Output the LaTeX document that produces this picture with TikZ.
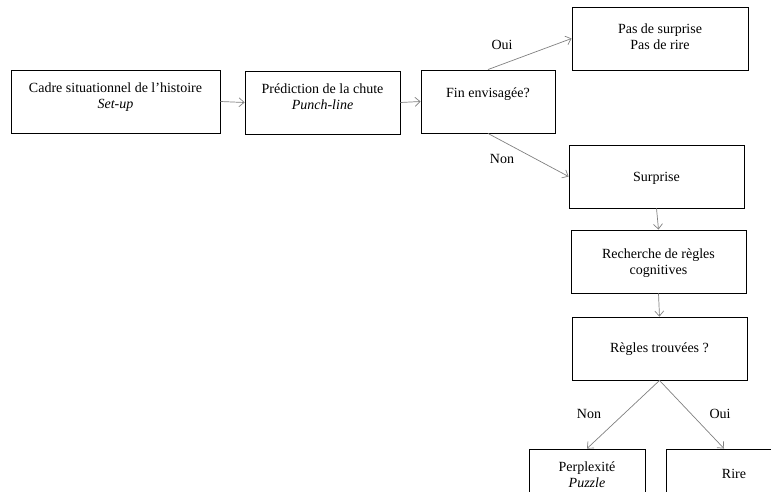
\documentclass[tikz,border=0pt]{standalone}
\usepackage{fontspec}
\setmainfont{Liberation Serif}
\usetikzlibrary{arrows.meta}
\begin{document}
\begin{tikzpicture}[x=1pt,y=-1pt,
  box/.style={draw=black,line width=0.9pt,inner sep=0pt,minimum height=63pt},
  txt/.style={align=center,font=\fontsize{14}{16}\selectfont,inner sep=0pt},
  lbl/.style={font=\fontsize{14}{16}\selectfont,inner sep=0pt},
  arr/.style={draw=black!50,line width=0.7pt,-{Straight Barb[length=5pt,width=9pt]}}]
\useasboundingbox (0,0) rectangle (771,492);
\clip (0,0) rectangle (771,492);
% boxes
\node[box,minimum width=209pt] (b1) at (115.5,101.5) {};
\node[box,minimum width=155pt] (b2) at (322.5,102.5) {};
\node[box,minimum width=134pt] (b3) at (488,101.5) {};
\node[box,minimum width=176pt] (b4) at (660,38.5) {};
\node[box,minimum width=175pt] (b5) at (656.5,176.5) {};
\node[box,minimum width=175pt] (b6) at (658.5,261.5) {};
\node[box,minimum width=175pt] (b7) at (659.5,348.5) {};
\node[box,minimum width=116pt] (b8) at (587,480.5) {};
\node[box,minimum width=116pt] (b9) at (724,480.5) {};
% texts
\node[txt] (t1) at (115.5,97) {Cadre situationnel de l’histoire\\\textit{Set-up}};
\node[txt] (t2) at (322.5,97) {Prédiction de la chute\\\textit{Punch-line}};
\node[txt] (t3) at (488,94) {Fin envisagée?};
\node[txt] (t4) at (660,37) {Pas de surprise\\Pas de rire};
\node[txt] (t5) at (656.5,178) {Surprise};
\node[txt] (t6) at (658.5,263) {Recherche de règles\\cognitives};
\node[txt] (t7) at (659.5,349) {Règles trouvées ?};
\node[txt] (t8) at (587,474.5) {Perplexité\\\textit{Puzzle}};
\node[txt] (t9) at (734,474) {Rire};
% connectors
\draw[arr] (b1.east) -- (b2.west);
\draw[arr] (b2.east) -- (b3.west);
\draw[arr] (b3.north) -- (b4.west);
\draw[arr] (b3.south) -- (b5.west);
\draw[arr] (b5.south) -- (b6.north);
\draw[arr] (b6.south) -- (b7.north);
\draw[arr] (b7.south) -- (b8.north);
\draw[arr] (b7.south) -- (b9.north);
% labels
\node[lbl] (l1) at (502,45) {Oui};
\node[lbl] (l2) at (502,159) {Non};
\node[lbl] (l3) at (589,414) {Non};
\node[lbl] (l4) at (720,414) {Oui};
\end{tikzpicture}
\end{document}
